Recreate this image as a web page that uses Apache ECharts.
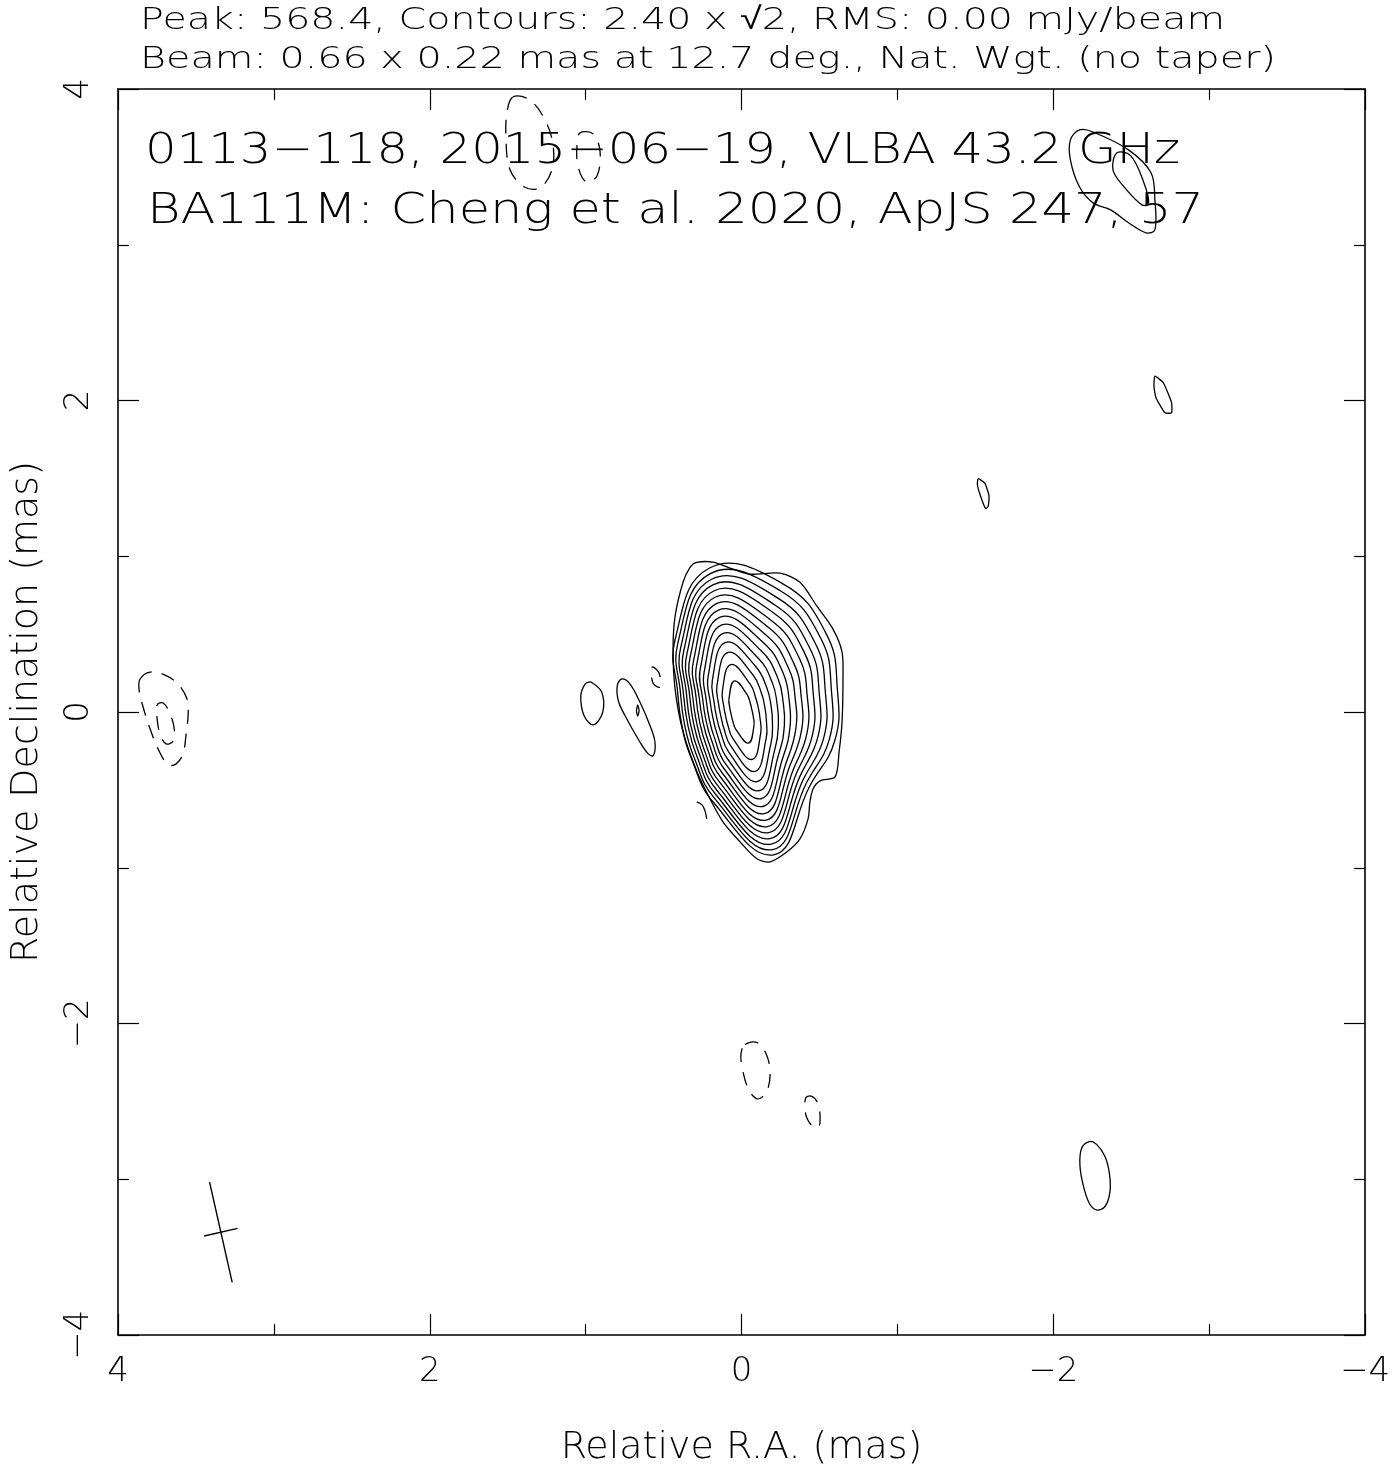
<!DOCTYPE html>
<html>
<head>
<meta charset="utf-8">
<script src="https://cdn.jsdelivr.net/npm/echarts@6/dist/echarts.min.js"></script>
<style>
  html, body { margin: 0; padding: 0; background: #fff; }
  #chart { width: 1394px; height: 1472px; }
</style>
</head>
<body>
<div id="chart"></div>
<script>
const headerLine1 = 'Peak: 568.4, Contours: 2.40 x \u221A2, RMS: 0.00 mJy/beam';
const headerLine2 = 'Beam: 0.66 x 0.22 mas at 12.7 deg., Nat. Wgt. (no taper)';
const titleLine1 = '0113\u2212118, 2015\u221206\u221219, VLBA 43.2 GHz';
const titleLine2 = 'BA111M: Cheng et al. 2020, ApJS 247, 57';
const xAxisTitle = 'Relative R.A. (mas)';
const yAxisTitle = 'Relative Declination (mas)';
const axisTicks = [-4, -2, 0, 2, 4];

// contour levels (mJy/beam): 2.40 x sqrt(2)^n
const contourLevels = [2.40, 3.39, 4.80, 6.79, 9.60, 13.58, 19.20, 27.15, 38.40, 54.31, 76.80, 108.61, 153.60, 217.22, 307.20, 434.41];

// core: outermost (2.40) contour traced point by point
const coreOuterX = [0.287, 0.183, 0.055, -0.055, -0.247, -0.375, -0.484, -0.587, -0.645, -0.651, -0.645, -0.626, -0.600, -0.504, -0.459, -0.439, -0.427, -0.375, -0.292, -0.183, -0.099, 0.010, 0.119, 0.202, 0.285, 0.375, 0.426, 0.439, 0.426, 0.375, 0.330];
const coreOuterY = [0.960, 0.962, 0.917, 0.885, 0.891, 0.833, 0.679, 0.532, 0.385, 0.212, -0.064, -0.256, -0.417, -0.442, -0.494, -0.577, -0.686, -0.814, -0.897, -0.962, -0.942, -0.833, -0.705, -0.558, -0.385, -0.128, 0.147, 0.404, 0.615, 0.833, 0.929];

// core: inner contours, radial extent (mas) from the peak at these position angles (deg, N through E)
const corePA = [282.7, 312.7, 342.7, 12.7, 42.7, 72.7, 102.7, 132.7, 162.7, 192.7, 222.7, 252.7];
const coreR1  = [0.631, 0.740, 0.867, 0.946, 0.629, 0.429, 0.392, 0.438, 0.607, 0.940, 0.646, 0.626];
const coreR2  = [0.592, 0.694, 0.819, 0.911, 0.602, 0.410, 0.374, 0.418, 0.581, 0.906, 0.616, 0.590];
const coreR3  = [0.552, 0.646, 0.769, 0.874, 0.573, 0.390, 0.354, 0.397, 0.555, 0.870, 0.586, 0.553];
const coreR4  = [0.512, 0.599, 0.720, 0.837, 0.544, 0.369, 0.336, 0.376, 0.528, 0.833, 0.556, 0.515];
const coreR5  = [0.473, 0.553, 0.671, 0.798, 0.515, 0.348, 0.316, 0.354, 0.500, 0.794, 0.525, 0.478];
const coreR6  = [0.433, 0.506, 0.621, 0.757, 0.485, 0.328, 0.296, 0.333, 0.472, 0.754, 0.494, 0.441];
const coreR7  = [0.394, 0.458, 0.571, 0.715, 0.453, 0.305, 0.276, 0.310, 0.442, 0.712, 0.461, 0.403];
const coreR8  = [0.354, 0.412, 0.520, 0.671, 0.422, 0.283, 0.255, 0.287, 0.412, 0.669, 0.428, 0.365];
const coreR9  = [0.314, 0.365, 0.468, 0.624, 0.388, 0.260, 0.234, 0.263, 0.380, 0.622, 0.393, 0.326];
const coreR10 = [0.274, 0.318, 0.415, 0.573, 0.353, 0.236, 0.212, 0.238, 0.347, 0.571, 0.356, 0.288];
const coreR11 = [0.234, 0.271, 0.361, 0.519, 0.315, 0.210, 0.187, 0.212, 0.311, 0.518, 0.318, 0.248];
const coreR12 = [0.194, 0.223, 0.306, 0.459, 0.276, 0.183, 0.163, 0.184, 0.272, 0.458, 0.278, 0.208];
const coreR13 = [0.153, 0.175, 0.249, 0.392, 0.232, 0.153, 0.135, 0.154, 0.230, 0.391, 0.233, 0.167];
const coreR14 = [0.111, 0.126, 0.187, 0.312, 0.181, 0.119, 0.105, 0.120, 0.181, 0.312, 0.182, 0.124];
const coreR15 = [0.068, 0.078, 0.118, 0.205, 0.118, 0.078, 0.068, 0.078, 0.118, 0.205, 0.118, 0.078];
const corePeak = [0.0, 0.0];

// isolated positive (solid) contours
const knotAX = [0.978, 0.961, 0.897, 0.890, 0.950, 1.010, 1.031, 1.004];
const knotAY = [0.192, 0.190, 0.128, 0.000, -0.083, -0.024, 0.104, 0.179];
const knotBX = [0.768, 0.715, 0.651, 0.587, 0.555, 0.566, 0.598, 0.651, 0.747, 0.790, 0.797];
const knotBY = [0.212, 0.179, 0.062, -0.088, -0.194, -0.280, -0.269, -0.194, -0.024, 0.072, 0.169];
const knotBInnerX = [0.666, 0.657, 0.666, 0.674];
const knotBInnerY = [0.045, 0.008, -0.026, 0.008];
const hookX = [0.287, 0.253, 0.234, 0.223];
const hookY = [-0.577, -0.596, -0.635, -0.686];
const nwOuterX = [-2.168, -2.255, -2.483, -2.627, -2.652, -2.652, -2.595, -2.483, -2.368, -2.255, -2.168, -2.110, -2.110];
const nwOuterY = [3.737, 3.724, 3.609, 3.462, 3.288, 3.096, 3.077, 3.141, 3.224, 3.269, 3.372, 3.545, 3.673];
const nwInnerX = [-2.409, -2.498, -2.582, -2.612, -2.569, -2.454, -2.383];
const nwInnerY = [3.590, 3.571, 3.397, 3.269, 3.256, 3.372, 3.481];
const spotAX = [-2.652, -2.706, -2.759, -2.759, -2.717, -2.659, -2.646];
const spotAY = [2.156, 2.114, 1.986, 1.921, 1.921, 2.017, 2.091];
const spotBX = [-1.519, -1.562, -1.588, -1.583, -1.566, -1.530, -1.513];
const spotBY = [1.498, 1.468, 1.387, 1.322, 1.306, 1.397, 1.462];
const swSpotX = [-2.182, -2.231, -2.278, -2.332, -2.360, -2.364, -2.332, -2.278, -2.231, -2.192, -2.171];
const swSpotY = [-2.801, -2.758, -2.776, -2.854, -2.962, -3.079, -3.175, -3.197, -3.154, -3.037, -2.908];

// negative (dashed) contours
const negEastOuterX = [3.858, 3.794, 3.698, 3.615, 3.557, 3.550, 3.563, 3.583, 3.627, 3.679, 3.743, 3.794, 3.839, 3.865];
const negEastOuterY = [0.212, 0.256, 0.237, 0.179, 0.083, -0.013, -0.141, -0.269, -0.333, -0.340, -0.237, -0.109, 0.032, 0.147];
const negEastInnerX = [3.749, 3.710, 3.665, 3.639, 3.646, 3.691, 3.729, 3.749];
const negEastInnerY = [0.045, 0.058, -0.013, -0.109, -0.186, -0.205, -0.147, -0.045];
const negNearX = [0.574, 0.529, 0.523, 0.568];
const negNearY = [0.288, 0.250, 0.160, 0.186];
const negTopAX = [1.466, 1.357, 1.260, 1.209, 1.216, 1.293, 1.395, 1.485, 1.511, 1.504];
const negTopAY = [3.949, 3.929, 3.801, 3.641, 3.481, 3.365, 3.372, 3.481, 3.673, 3.853];
const negTopBX = [1.036, 0.953, 0.908, 0.927, 0.997, 1.049, 1.055];
const negTopBY = [3.718, 3.712, 3.603, 3.442, 3.404, 3.506, 3.647];
const negSouthAX = [-0.022, -0.099, -0.157, -0.183, -0.170, -0.131, -0.093, -0.042, -0.003, 0.003];
const negSouthAY = [-2.135, -2.122, -2.192, -2.301, -2.417, -2.474, -2.481, -2.417, -2.276, -2.192];
const negSouthBX = [-0.414, -0.452, -0.491, -0.504, -0.497, -0.465, -0.420, -0.407];
const negSouthBY = [-2.474, -2.468, -2.513, -2.596, -2.660, -2.667, -2.609, -2.532];

// restoring beam
const beamMajor = 0.66, beamMinor = 0.22, beamPA = 12.7;
const beamPos = [3.34, -3.34];

// ---------------- BUILD ----------------
const FONT = "'DejaVu Sans', sans-serif";
const WEIGHT = 200;
const D2R = Math.PI / 180;

function polarContour(r) {
  return {
    x: r.map((v, i) => corePeak[0] + v * Math.sin(corePA[i] * D2R)),
    y: r.map((v, i) => corePeak[1] + v * Math.cos(corePA[i] * D2R))
  };
}
const contours = [];
function add(x, y, dashed, closed, smooth) {
  contours.push({ x, y, dashed: !!dashed, closed: closed !== false, smooth: smooth == null ? 0.35 : smooth });
}
add(coreOuterX, coreOuterY, false, true, 0.3);
[coreR1, coreR2, coreR3, coreR4, coreR5, coreR6, coreR7, coreR8, coreR9, coreR10, coreR11, coreR12, coreR13, coreR14, coreR15]
  .forEach(r => { const c = polarContour(r); add(c.x, c.y, false, true, 0.45); });
add(knotAX, knotAY); add(knotBX, knotBY); add(knotBInnerX, knotBInnerY, false, true, 0.2);
add(hookX, hookY, false, false, 0.3);
add(nwOuterX, nwOuterY); add(nwInnerX, nwInnerY);
add(spotAX, spotAY, false, true, 0.15); add(spotBX, spotBY, false, true, 0.15);
add(swSpotX, swSpotY);
add(negEastOuterX, negEastOuterY, true); add(negEastInnerX, negEastInnerY, true);
add(negNearX, negNearY, true);
add(negTopAX, negTopAY, true); add(negTopBX, negTopBY, true);
add(negSouthAX, negSouthAY, true); add(negSouthBX, negSouthBY, true);

const measureCtx = document.createElement('canvas').getContext('2d');
function fitScale(text, size, target) {
  measureCtx.font = WEIGHT + ' ' + size + 'px ' + FONT;
  return target / measureCtx.measureText(text).width;
}
function textEl(text, x, y, size, targetWidth) {
  return {
    type: 'text', x: x, y: y, scaleX: fitScale(text, size, targetWidth), z: 10,
    style: { text: text, fontSize: size, fontFamily: FONT, fontWeight: WEIGHT, fill: '#000', align: 'left', verticalAlign: 'middle' }
  };
}
const fmt = v => (v < 0 ? '\u2212' + Math.abs(v) : String(v));

const axisCommon = {
  type: 'value', min: axisTicks[0], max: axisTicks[axisTicks.length - 1], interval: axisTicks[1] - axisTicks[0],
  axisLine: { show: true, onZero: false, lineStyle: { color: '#000', width: 1.6 } },
  axisTick: { show: true, inside: true, length: 21, lineStyle: { color: '#000', width: 1.2 } },
  minorTick: { show: true, splitNumber: 2, length: 11, lineStyle: { color: '#000', width: 1.2 } },
  splitLine: { show: false }, minorSplitLine: { show: false }
};
const labelStyle = { fontSize: 34, color: '#000', fontFamily: FONT, fontWeight: WEIGHT, formatter: fmt };
const nameStyle = { fontSize: 38, color: '#000', fontFamily: FONT, fontWeight: WEIGHT };

const option = {
  animation: false,
  backgroundColor: '#fff',
  textStyle: { fontFamily: FONT },
  grid: { left: 118, top: 89, width: 1247, height: 1248 },
  xAxis: [
    Object.assign({}, axisCommon, { position: 'bottom', inverse: true,
      axisLabel: Object.assign({ margin: 20 }, labelStyle),
      name: xAxisTitle, nameLocation: 'middle', nameGap: 94, nameTextStyle: nameStyle }),
    Object.assign({}, axisCommon, { position: 'top', inverse: true, axisLabel: { show: false } })
  ],
  yAxis: [
    Object.assign({}, axisCommon, { position: 'left',
      axisLabel: Object.assign({ margin: 22, rotate: 90 }, labelStyle),
      name: yAxisTitle, nameLocation: 'middle', nameGap: 72, nameTextStyle: nameStyle }),
    Object.assign({}, axisCommon, { position: 'right', axisLabel: { show: false } })
  ],
  graphic: [
    textEl(headerLine1, 140, 21, 31, 1085),
    textEl(headerLine2, 140, 60, 31, 1136),
    textEl(titleLine1, 145, 152, 43, 1035),
    textEl(titleLine2, 147, 212, 43, 1057)
  ],
  series: [
    {
      type: 'custom', name: 'contours', xAxisIndex: 0, yAxisIndex: 0, clip: true, silent: true,
      data: contours.map((c, i) => [c.x[0], c.y[0], i]),
      renderItem: function (params, api) {
        const c = contours[params.dataIndex];
        const pts = c.x.map((x, j) => api.coord([x, c.y[j]]));
        return {
          type: c.closed ? 'polygon' : 'polyline',
          shape: { points: pts, smooth: c.smooth },
          style: { fill: null, stroke: '#000', lineWidth: 1.3, lineDash: c.dashed ? [14, 10] : null }
        };
      }
    },
    {
      type: 'custom', name: 'beam', xAxisIndex: 0, yAxisIndex: 0, clip: true, silent: true,
      data: [[beamPos[0], beamPos[1]]],
      renderItem: function (params, api) {
        const s = Math.sin(beamPA * D2R), c = Math.cos(beamPA * D2R);
        const a = beamMajor / 2, b = beamMinor / 2;
        const p = beamPos;
        const m1 = api.coord([p[0] + a * s, p[1] + a * c]);
        const m2 = api.coord([p[0] - a * s, p[1] - a * c]);
        const n1 = api.coord([p[0] + b * c, p[1] - b * s]);
        const n2 = api.coord([p[0] - b * c, p[1] + b * s]);
        const st = { stroke: '#000', lineWidth: 1.4 };
        return { type: 'group', children: [
          { type: 'line', shape: { x1: m1[0], y1: m1[1], x2: m2[0], y2: m2[1] }, style: st },
          { type: 'line', shape: { x1: n1[0], y1: n1[1], x2: n2[0], y2: n2[1] }, style: st }
        ] };
      }
    }
  ]
};

const chart = echarts.init(document.getElementById('chart'), null, { renderer: 'canvas' });
chart.setOption(option);
</script>
</body>
</html>
